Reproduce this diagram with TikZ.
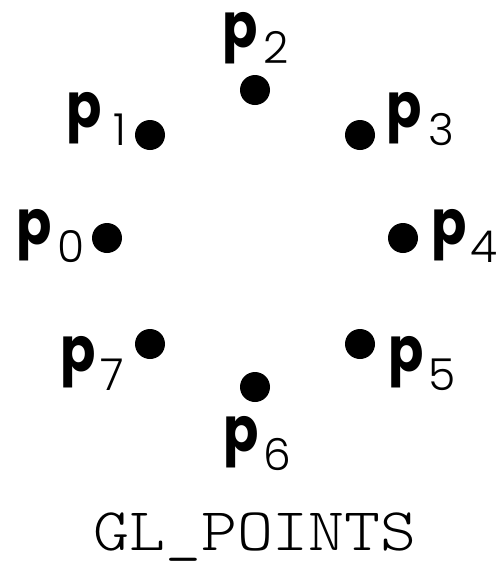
\documentclass[tikz,border=0pt]{standalone}
\usepackage{fontspec}
\newfontfamily\pfam{Poppins}
\newfontfamily\dfam{Poppins Light}
\newfontfamily\monolight{Latin Modern Mono Light}
\begin{document}
\begin{tikzpicture}[x=1pt,y=-1pt,
  dot/.style={circle,fill=black,minimum size=30pt,inner sep=0pt},
  plab/.style={anchor=base west,inner sep=0pt,xscale=0.84,font=\fontsize{62}{62}\pfam\bfseries},
  dlab/.style={anchor=base west,inner sep=0pt,font=\fontsize{44}{44}\dfam},
  title/.style={anchor=base,inner sep=0pt,xscale=1.13,font=\fontsize{60.6}{61}\monolight}]
\useasboundingbox (0,0) rectangle (501,566);
\foreach \n/\dx/\dy/\px/\pb/\sx/\sb in {
  0/107/238/16/244/57/262,
  1/150/135/66/127/113/145,
  2/255/90/222/47/263/63,
  3/360/135/386/127/428/145,
  4/403/238/431/244/470/262,
  5/360/344/388/371/428/390,
  6/255/387/223/451/263/470,
  7/150/344/60/371/100/390}{
  \node[dot] (d\n) at (\dx,\dy) {};
  \node[plab] (p\n) at (\px,\pb) {p};
  \node[dlab] (s\n) at (\sx,\sb) {\n};
}
\node[title] (t) at (255,550) {GL\_POINTS};
\end{tikzpicture}
\end{document}
